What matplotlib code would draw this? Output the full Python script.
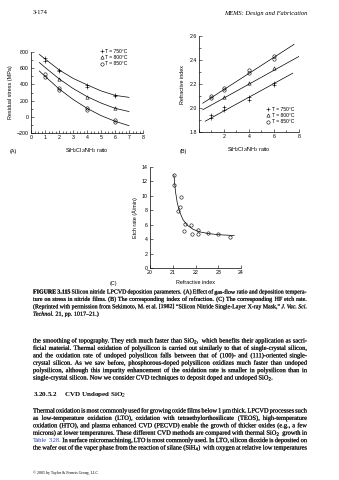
import numpy as np
import matplotlib
matplotlib.use("Agg")
import matplotlib.pyplot as plt
import matplotlib.patheffects as pe
from matplotlib.ticker import MultipleLocator

plt.rcParams['font.family'] = ['Liberation Sans', 'DejaVu Sans']
plt.rcParams['mathtext.fontset'] = 'custom'
plt.rcParams['mathtext.rm'] = 'Liberation Sans'
plt.rcParams['mathtext.it'] = 'Liberation Sans:italic'

# ---- (A) residual stress vs gas ratio ----
a_x750 = [1, 1, 2, 2, 4, 4, 6, 6]
a_y750 = [720, 690, 580, 560, 390, 372, 275, 255]
a_x800 = [2, 4, 6]
a_y800 = [465, 245, 108]
a_x850 = [1, 1, 2, 2, 4, 4, 6, 6]
a_y850 = [530, 490, 360, 330, 105, 88, -45, -70]
a_fit_x = [0.6, 1, 2, 3, 4, 5, 6, 7]
a_fit750 = [770, 715, 580, 475, 395, 320, 265, 240]
a_fit800 = [670, 610, 470, 350, 250, 170, 105, 65]
a_fit850 = [565, 500, 345, 215, 105, 15, -55, -110]

# ---- (B) refractive index vs gas ratio ----
b_x750 = [1, 1, 2, 2, 4, 4, 6, 6]
b_y750 = [1.92, 1.94, 1.98, 2.01, 2.07, 2.09, 2.19, 2.21]
b_x800 = [2, 4, 6]
b_y800 = [2.09, 2.21, 2.33]
b_x850 = [1, 1, 2, 2, 4, 4, 6, 6]
b_y850 = [2.08, 2.10, 2.15, 2.17, 2.29, 2.32, 2.41, 2.43]
b_fit750_x, b_fit750_y = [0.5, 7.5], [1.89, 2.29]
b_fit800_x, b_fit800_y = [0.3, 8.0], [1.985, 2.43]
b_fit850_x, b_fit850_y = [0.3, 7.6], [2.04, 2.53]

# ---- (C) etch rate vs refractive index ----
c_x = [21.05, 21.07, 21.38, 21.33, 21.24, 21.55, 21.5, 21.82, 21.83, 22.1, 22.1, 22.55, 23.0, 23.5]
c_y = [12.9, 11.55, 9.85, 8.5, 7.95, 6.1, 5.1, 5.9, 4.65, 5.25, 4.75, 4.9, 4.75, 4.25]
c_fit_x = [21.05, 21.12, 21.2, 21.3, 21.45, 21.65, 21.9, 22.2, 22.6, 23.1, 23.7]
c_fit_y = [12.9, 10.6, 9.0, 7.8, 6.7, 5.9, 5.35, 5.0, 4.75, 4.6, 4.5]

legend_labels = ['T = 750\u00b0C', 'T = 800\u00b0C', 'T = 850\u00b0C']

caption = [
    "*FIGURE *3.115 Silicon nitride LPCVD deposition parameters. (A) Effect of gas-flow ratio and deposition tempera-",
    "ture on stress in nitride films. (B) The corresponding index of refraction. (C) The corresponding HF etch rate.",
    "(Reprinted with permission from Sekimoto, M. et al. [1982] \u201cSilicon Nitride Single-Layer X-ray Mask,\u201d _J. _Vac. _Sci.",
    "_Technol. 21, pp. 1017\u201321.)",
]
body1 = [
    "the smoothing of topography. They etch much faster than SiO$_2$, which benefits their application as sacri-",
    "ficial material. Thermal oxidation of polysilicon is carried out similarly to that of single-crystal silicon,",
    "and the oxidation rate of undoped polysilicon falls between that of (100)- and (111)-oriented single-",
    "crystal silicon. As we saw before, phosphorous-doped polysilicon oxidizes much faster than undoped",
    "polysilicon, although this impurity enhancement of the oxidation rate is smaller in polysilicon than in",
    "single-crystal silicon. Now we consider CVD techniques to deposit doped and undoped SiO$_2$.",
]
body2 = [
    "Thermal oxidation is most commonly used for growing oxide films below 1 \u00b5m thick. LPCVD processes such",
    "as low-temperature oxidation (LTO), oxidation with tetraethylorthosilicate (TEOS), high-temperature",
    "oxidation (HTO), and plasma enhanced CVD (PECVD) enable the growth of thicker oxides (e.g., a few",
    "microns) at lower temperatures. These different CVD methods are compared with thermal SiO$_2$ growth in",
    "#Table #3.28. In surface micromachining, LTO is most commonly used. In LTO, silicon dioxide is deposited on",
    "the wafer out of the vaper phase from the reaction of silane (SiH$_4$) with oxygen at relative low temperatures",
]

W, H = 339, 480
fig = plt.figure(figsize=(W / 100, H / 100), dpi=100)
SERIF = 'Liberation Serif'


def add_ax(x0, y0, x1, y1):
    ax = fig.add_axes([x0 / W, 1 - y1 / H, (x1 - x0) / W, (y1 - y0) / H])
    for s in ['top', 'right']:
        ax.spines[s].set_visible(False)
    for s in ['left', 'bottom']:
        ax.spines[s].set_linewidth(0.5)
    ax.tick_params(which='both', direction='in', labelsize=3.8, width=0.4, pad=1.5)
    ax.tick_params(which='major', length=2.2)
    ax.tick_params(which='minor', length=1.2)
    return ax


mk = dict(color='black', markersize=2.4, markeredgewidth=0.4, linestyle='none', clip_on=False)
lk = dict(color='black', linewidth=0.5)
leg_kw = dict(frameon=False, fontsize=3.6, handlelength=0.8, handletextpad=0.3,
              labelspacing=0.25, borderpad=0, borderaxespad=0, loc='upper left')

# panel A
ax = add_ax(31, 52, 143, 133)
ax.plot(a_fit_x, a_fit750, **lk)
ax.plot(a_fit_x, a_fit800, **lk)
ax.plot(a_fit_x, a_fit850, **lk)
h1, = ax.plot(a_x750, a_y750, marker='+', **mk)
h2, = ax.plot(a_x800, a_y800, marker='^', markerfacecolor='none', **mk)
h3, = ax.plot(a_x850, a_y850, marker='o', markerfacecolor='none', **mk)
ax.set_xlim(0, 8)
ax.set_ylim(-200, 800)
ax.set_xticks(range(0, 9))
ax.set_yticks([-200, 0, 200, 400, 600, 800])
ax.set_yticklabels(['\u2212200', '0', '200', '400', '600', '800'])
ax.xaxis.set_minor_locator(MultipleLocator(0.25))
ax.yaxis.set_minor_locator(MultipleLocator(100))
ax.set_ylabel('Residual stress (MPa)', fontsize=3.9, labelpad=2.5)
ax.set_xlabel('SiH$_2$Cl$_2$/NH$_3$ ratio', fontsize=3.9, labelpad=4)
ax.legend([h1, h2, h3], legend_labels, bbox_to_anchor=(4.9, 840),
          bbox_transform=ax.transData, **leg_kw)
fig.text(10 / W, 1 - 152 / H, '(A)', fontsize=3.9, va='center')

# panel B
ax = add_ax(199, 36, 299, 132)
ax.plot(b_fit750_x, b_fit750_y, **lk)
ax.plot(b_fit800_x, b_fit800_y, **lk)
ax.plot(b_fit850_x, b_fit850_y, **lk)
h1, = ax.plot(b_x750, b_y750, marker='+', **mk)
h2, = ax.plot(b_x800, b_y800, marker='^', markerfacecolor='none', **mk)
h3, = ax.plot(b_x850, b_y850, marker='o', markerfacecolor='none', **mk)
ax.set_xlim(0, 8)
ax.set_ylim(1.8, 2.6)
ax.set_xticks([0, 2, 4, 6, 8])
ax.set_xticklabels(['', '2', '4', '6', '8'])
ax.set_yticks([1.8, 2.0, 2.2, 2.4, 2.6])
ax.xaxis.set_minor_locator(MultipleLocator(1))
ax.yaxis.set_minor_locator(MultipleLocator(0.1))
ax.set_ylabel('Refractive index', fontsize=3.9, labelpad=3)
ax.set_xlabel('SiH$_2$Cl$_2$/NH$_3$ ratio', fontsize=3.9, labelpad=4)
ax.legend([h1, h2, h3], legend_labels, bbox_to_anchor=(5.4, 2.01),
          bbox_transform=ax.transData, **leg_kw)
fig.text(180 / W, 1 - 152 / H, '(B)', fontsize=3.9, va='center')

# panel C
ax = add_ax(150, 167, 241, 268)
ax.plot(c_fit_x, c_fit_y, **lk)
ax.plot(c_x, c_y, marker='o', markerfacecolor='none', **mk)
ax.set_xlim(20, 24)
ax.set_ylim(0, 14)
ax.set_xticks([20, 21, 22, 23, 24])
ax.set_yticks(range(0, 15, 2))
ax.set_ylabel('Etch rate (\u00c5/min)', fontsize=3.9, labelpad=2.5)
ax.set_xlabel('Refractive index', fontsize=3.9, labelpad=3.5)
fig.text(110 / W, 1 - 283 / H, '(C)', fontsize=3.9, va='center')

# page text
fig.text(33 / W, 1 - 13 / H, '3-174', fontsize=4.6, family=SERIF, va='center')
fig.text(307 / W, 1 - 13 / H, 'MEMS: Design and Fabrication', fontsize=4.6, family=SERIF,
         style='italic', ha='right', va='center')

renderer = fig.canvas.get_renderer()

# pick a body font size so a full line sets at about its natural width
probe = fig.text(0, 0, body1[1], fontsize=4.0, family=SERIF)
body_size = 4.0 * 264 / probe.get_window_extent(renderer).width
probe.remove()
ink = [pe.withStroke(linewidth=0.12, foreground='#333333')]


def make_words(line, y, size):
    items = []
    for w in line.split(' '):
        kw = dict(fontsize=size, family=SERIF, va='center', ha='left', color='#151515')
        if w.startswith('*'):
            w = w[1:]
            kw['weight'] = 'bold'
        elif w.startswith('_'):
            w = w[1:]
            kw['style'] = 'italic'
        elif w.startswith('#'):
            w = w[1:]
            kw['color'] = '#1a3fb0'
        t = fig.text(0, 1 - y / H, w, **kw)
        if kw['color'] == '#151515':
            t.set_path_effects(ink)
        items.append(t)
    return items


def put_line(line, y, size, last=False, x0=33, x1=307):
    items = make_words(line, y, size)
    widths = [t.get_window_extent(renderer).width for t in items]
    n = len(items)
    if not last and n > 1 and (x1 - x0 - sum(widths)) / (n - 1) < 1.0:
        # too tight: shrink this line a little
        for t in items:
            t.remove()
        size = size * (x1 - x0 - (n - 1) * 1.2) / sum(widths)
        items = make_words(line, y, size)
        widths = [t.get_window_extent(renderer).width for t in items]
    if last or n < 2:
        gap = size * 0.33
    else:
        gap = (x1 - x0 - sum(widths)) / (n - 1)
    x = x0
    for t, wd in zip(items, widths):
        t.set_x(x / W)
        x += wd + gap


LS = 7.4
cap_size = body_size * 0.95
for i, line in enumerate(caption):
    put_line(line, 292 + i * LS, cap_size, last=(i == len(caption) - 1))
for i, line in enumerate(body1):
    put_line(line, 341 + i * LS, body_size, last=(i == len(body1) - 1))
fig.text(33 / W, 1 - 395 / H, '3.20.5.2     CVD Undoped SiO$_2$', fontsize=body_size * 1.1,
         family=SERIF, weight='bold', va='center')
for i, line in enumerate(body2):
    put_line(line, 411 + i * LS, body_size)
fig.text(33 / W, 1 - 473 / H, '\u00a9 2005 by Taylor & Francis Group, LLC', fontsize=2.9,
         family=SERIF, va='center')

fig.savefig('out.png', dpi=100)
